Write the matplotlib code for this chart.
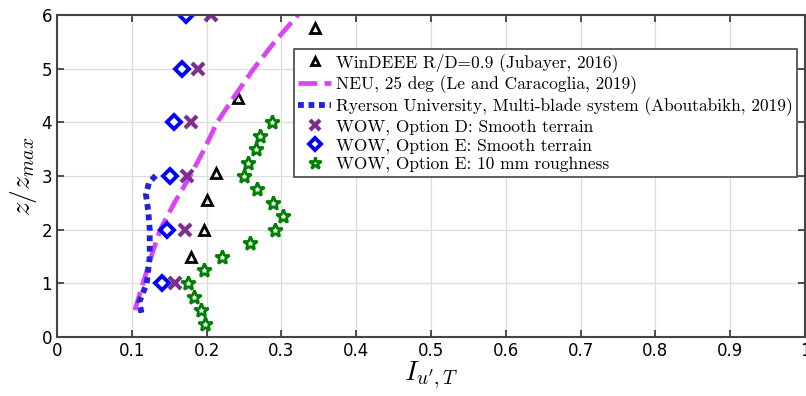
import matplotlib
matplotlib.use("Agg")
import matplotlib.pyplot as plt

# WinDEEE R/D=0.9 (Jubayer, 2016)
windeee_x = [0.179, 0.196, 0.200, 0.213, 0.242, 0.345]
windeee_z = [1.5, 2.0, 2.55, 3.05, 4.45, 5.75]

# NEU, 25 deg (Le and Caracoglia, 2019)
neu_x = [0.104, 0.115, 0.126, 0.138, 0.157, 0.178, 0.197, 0.214, 0.238, 0.263, 0.291, 0.322]
neu_z = [0.5, 1.0, 1.5, 2.0, 2.5, 3.0, 3.5, 4.0, 4.5, 5.0, 5.5, 6.0]

# Ryerson University, Multi-blade system (Aboutabikh, 2019)
rye_x = [0.113, 0.110, 0.120, 0.124, 0.124, 0.122, 0.119, 0.123, 0.133]
rye_z = [0.45, 0.65, 1.0, 1.5, 2.0, 2.35, 2.65, 2.88, 3.02]

# WOW, Option D / E smooth terrain
optD_x = [0.158, 0.171, 0.174, 0.179, 0.188, 0.206]
optD_z = [1, 2, 3, 4, 5, 6]
optE_x = [0.141, 0.147, 0.151, 0.156, 0.167, 0.172]
optE_z = [1, 2, 3, 4, 5, 6]

# WOW, Option E: 10 mm roughness
rough_x = [0.198, 0.193, 0.183, 0.175, 0.197, 0.221, 0.258, 0.291,
           0.302, 0.289, 0.267, 0.250, 0.256, 0.266, 0.272, 0.287]
rough_z = [0.25, 0.5, 0.75, 1.0, 1.25, 1.5, 1.75, 2.0,
           2.25, 2.5, 2.75, 3.0, 3.25, 3.5, 3.75, 4.0]

xticks = [0, 0.1, 0.2, 0.3, 0.4, 0.5, 0.6, 0.7, 0.8, 0.9, 1]
xticklabels = ["0", "0.1", "0.2", "0.3", "0.4", "0.5", "0.6", "0.7", "0.8", "0.9", "1"]
yticks = [0, 1, 2, 3, 4, 5, 6]

plt.rcParams["mathtext.fontset"] = "cm"

fig = plt.figure(figsize=(8.06, 3.96), dpi=100)
ax = fig.add_axes([0.0707, 0.149, 0.928, 0.813])

ax.plot(windeee_x, windeee_z, "^", ls="none", mfc="none", mec="black", mew=2.0, ms=6.5,
        label="WinDEEE R/D=0.9 (Jubayer, 2016)")
ax.plot(neu_x, neu_z, "--", color="#D946F5", lw=3.4, dashes=(4, 1.5),
        label="NEU, 25 deg (Le and Caracoglia, 2019)")
ax.plot(rye_x, rye_z, ":", color="#2222DD", lw=4.2, dashes=(1.0, 0.8),
        label="Ryerson University, Multi-blade system (Aboutabikh, 2019)")
ax.plot(optD_x, optD_z, "x", ls="none", color="#7E2F8E", mew=3.0, ms=8,
        label="WOW, Option D: Smooth terrain")
ax.plot(optE_x, optE_z, "D", ls="none", mfc="white", mec="#0000FF", mew=2.8, ms=7.5,
        label="WOW, Option E: Smooth terrain")
ax.plot(rough_x, rough_z, "*", ls="none", mfc="white", mec="#008000", mew=2.0, ms=10.5,
        label="WOW, Option E: 10 mm roughness")

ax.set_xlim(0, 1)
ax.set_ylim(0, 6)
ax.set_xticks(xticks)
ax.set_xticklabels(xticklabels)
ax.set_yticks(yticks)
ax.grid(True, color="#DDDDDD", lw=0.9)
ax.set_axisbelow(True)
ax.tick_params(direction="in", top=True, right=True, length=5, width=1.2,
               labelsize=12, colors="#333333")
for lab in ax.get_xticklabels() + ax.get_yticklabels():
    lab.set_family("Liberation Sans Narrow")
    lab.set_color("black")
for s in ax.spines.values():
    s.set_color("#444444")
    s.set_linewidth(1.5)

ax.set_xlabel(r"$I_{u',T}$", fontsize=20, labelpad=0)
ax.set_ylabel(r"$z/z_{max}$", fontsize=20, labelpad=2)

leg = ax.legend(loc="upper right", bbox_to_anchor=(0.99, 0.895), fancybox=False,
                edgecolor="#444444", framealpha=1, handlelength=1.9, handletextpad=0.3,
                borderpad=0.25, labelspacing=0.18, borderaxespad=0,
                prop={"family": "cmr10", "size": 12.5}, markerscale=0.85)
leg.get_frame().set_linewidth(1.2)

fig.savefig("out.png", dpi=100)
